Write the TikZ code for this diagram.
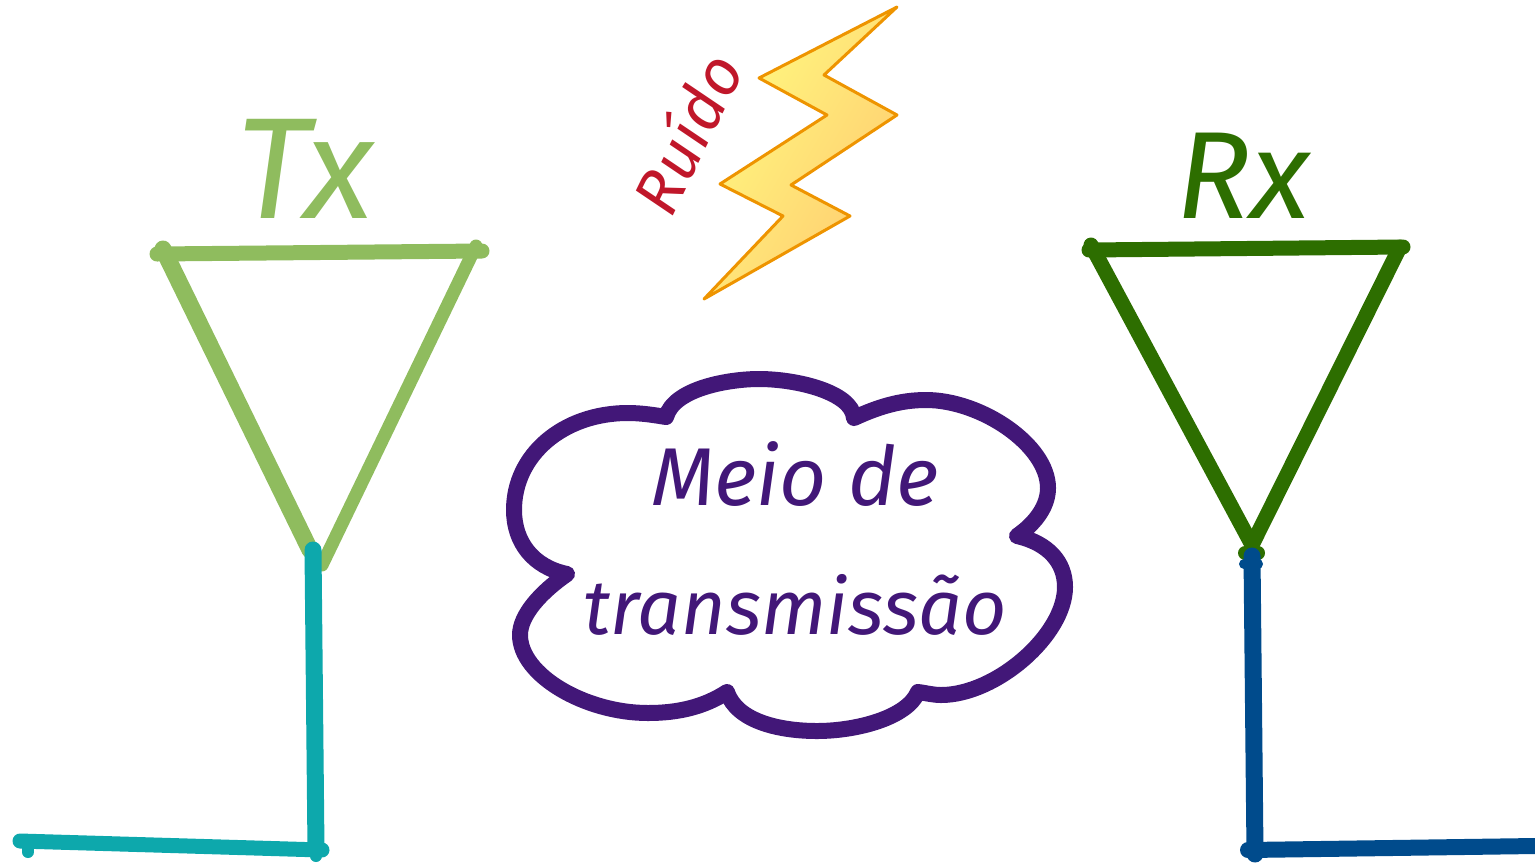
\documentclass[tikz,border=0pt]{standalone}
\usepackage{fontspec}
\newfontfamily\handfont{Fira Sans}
\definecolor{txgreen}{HTML}{8FBC5E}
\definecolor{rxgreen}{HTML}{2D6E00}
\definecolor{txteal}{HTML}{0DA8AC}
\definecolor{rxblue}{HTML}{004B8C}
\definecolor{meiopurple}{HTML}{421778}
\definecolor{ruidored}{HTML}{C0172A}
\definecolor{boltedge}{HTML}{EE9400}
\definecolor{boltlight}{HTML}{FFFA80}
\definecolor{boltdark}{HTML}{FFCC70}
\tikzset{
    stroke/.style={line cap=round, line join=round},
    handtext/.style={anchor=base, inner sep=0pt, font=\handfont\itshape},
}
\begin{document}
\begin{tikzpicture}[x=.5pt, y=-.5pt]
    \useasboundingbox (0,0) rectangle (1535,863);
    % antena Tx
    \draw[stroke, txgreen, line width=7.5pt] (157,254) -- (482,251);
    \draw[stroke, txgreen, line width=8.5pt] (163,249) -- (310,550);
    \draw[stroke, txgreen, line width=6.5pt] (476,246) -- (322,565);
    \draw[stroke, txteal, line width=8.5pt] (313,550) -- (316,850);
    \draw[stroke, txteal, line width=7.5pt] (20,841) -- (322,850);
    \draw[stroke, txteal, line width=6pt] (28,846) -- (28,852);
    \draw[stroke, txteal, line width=6pt] (316,850) -- (316,856);
    % antena Rx
    \draw[stroke, rxgreen, line width=7.5pt] (1089,250) -- (1403,247);
    \draw[stroke, rxgreen, line width=7.5pt] (1091,245) -- (1252,545);
    \draw[stroke, rxgreen, line width=7.5pt] (1400,247) -- (1252,545);
    \draw[stroke, rxgreen, line width=7pt] (1245,553) -- (1258,553);
    \draw[stroke, rxblue, line width=8.5pt] (1252,556) -- (1255,854);
    \draw[stroke, rxblue, line width=5pt] (1244,564) -- (1258,564);
    \draw[stroke, rxblue, line width=8pt] (1248,850) -- (1535,846);
    \node[handtext, txgreen, font=\handfont\itshape\fontsize{72}{72}\selectfont] (tx) at (305,218) {Tx};
    \node[handtext, rxgreen, font=\handfont\itshape\fontsize{62}{62}\selectfont] (rx) at (1243,218) {Rx};
    % raio e ruido
    \draw[boltedge, line width=1.5pt, line join=round, left color=boltlight, right color=boltdark, shading angle=60]
        (897,7) -- (824,75) -- (897,115) -- (791,185) -- (850,216) -- (704,299)
        -- (783,216) -- (720,184) -- (827,115) -- (759,78) -- cycle;
    \node[handtext, anchor=center, ruidored, rotate=64, font=\handfont\itshape\fontsize{32}{32}\selectfont] (ruido) at (686,133) {Ruído};
    % nuvem
    \draw[stroke, meiopurple, line width=8pt]
        (666,417) .. controls (674,388) and (730,379) .. (759,379)
        .. controls (796,379) and (852,392) .. (854,418)
        .. controls (878,407) and (900,400) .. (926,400)
        .. controls (981,400) and (1048,445) .. (1048,488)
        .. controls (1048,505) and (1037,522) .. (1017,536)
        .. controls (1048,543) and (1065,562) .. (1065,587)
        .. controls (1065,635) and (996,695) .. (941,695)
        .. controls (933,695) and (926,693) .. (918,692)
        .. controls (907,718) and (856,731) .. (817,731)
        .. controls (781,731) and (737,722) .. (727,692)
        .. controls (704,707) and (678,713) .. (648,713)
        .. controls (585,713) and (520,675) .. (520,635)
        .. controls (520,615) and (541,592) .. (567,574)
        .. controls (533,567) and (514,542) .. (514,510)
        .. controls (514,455) and (563,413) .. (628,413)
        .. controls (641,413) and (654,415) .. (666,417) -- cycle;
    \node[handtext, meiopurple, font=\handfont\itshape\fontsize{41}{41}\selectfont] (meio) at (795,505) {Meio de};
    \node[handtext, meiopurple, font=\handfont\itshape\fontsize{38.5}{38.5}\selectfont] (transmissao) at (795,634) {transmissão};
\end{tikzpicture}
\end{document}
